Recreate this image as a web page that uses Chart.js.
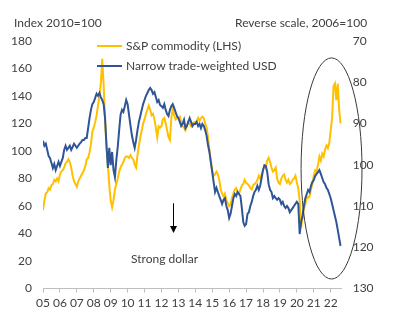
<!DOCTYPE html>
<html>
<head>
<meta charset="utf-8">
<script src="https://cdn.jsdelivr.net/npm/chart.js@4.4.1/dist/chart.umd.min.js"></script>
<style>
  body{margin:0;background:#fff;}
  #wrap{position:relative;width:395px;height:323px;font-family:Lato,"Liberation Sans",sans-serif;color:#404040;font-size:12px;}
  #chart{position:absolute;left:0;top:0;}
  .note{position:absolute;white-space:nowrap;line-height:14px;}
  .legend-item{position:absolute;left:97px;display:flex;align-items:center;white-space:nowrap;line-height:14px;}
  .legend-item .swatch{display:inline-block;width:25px;height:2px;margin-right:4px;}
</style>
</head>
<body>
<div id="wrap">
  <canvas id="chart" width="395" height="323"></canvas>
  <div class="note" style="left:14px;top:16px">Index 2010=100</div>
  <div class="note" style="left:235px;top:16px">Reverse scale, 2006=100</div>
  <div class="note" style="left:131px;top:252px">Strong dollar</div>
  <div id="legend"></div>
</div>
<script>
// monthly values, Jan 2005 onwards
const startYear = 2005;
const yearTicks = [2005,2006,2007,2008,2009,2010,2011,2012,2013,2014,2015,2016,2017,2018,2019,2020,2021,2022];
const yearLabels = ['05','06','07','08','09','10','11','12','13','14','15','16','17','18','19','20','21','22'];

// S&P commodity, index 2010=100 (LHS)
const commodity = [
  57, 64, 69, 70, 73, 72, 75, 76, 79, 78, 80, 78,
  83, 85, 86, 88, 91, 92, 94, 92, 88, 82, 78, 76,
  74, 78, 80, 82, 84, 86, 89, 94, 95, 99, 105, 114,
  117, 121, 126, 133, 140, 149, 167, 148, 123, 104, 90, 75,
  64, 59, 64, 72, 76, 80, 85, 88, 90, 92, 95, 96,
  96, 95, 97, 95, 94, 90, 88, 97, 104, 110, 115, 120,
  123, 127, 130, 133, 130, 126, 127, 123, 117, 110, 118, 117,
  118, 123, 124, 120, 115, 110, 108, 124, 131, 126, 123, 124,
  124, 125, 121, 118, 117, 115, 118, 121, 120, 118, 120, 121,
  121, 122, 124, 122, 124, 125, 124, 120, 117, 110, 101, 92,
  86, 82, 83, 85, 83, 79, 72, 69, 67, 69, 64, 62,
  60, 61, 66, 69, 72, 73, 70, 69, 72, 75, 76, 79,
  77, 76, 75, 73, 72, 75, 76, 77, 79, 82, 80, 83,
  86, 89, 88, 93, 95, 92, 88, 85, 86, 88, 80, 77,
  76, 80, 82, 83, 79, 77, 79, 76, 77, 79, 80, 82,
  77, 73, 64, 44, 51, 58, 61, 67, 66, 67, 72, 76,
  82, 86, 85, 90, 96, 93, 98, 96, 101, 104, 102, 106,
  115, 124, 147, 149, 137, 149, 130, 120
];

// narrow trade-weighted USD, 2006=100, reverse scale (RHS)
const usd = [
  94.2, 95.4, 94.9, 96.4, 97.9, 98.4, 99.6, 100.8, 99.8, 101.3, 100.3, 99.3,
  100.3, 99.3, 98.4, 96.4, 95.4, 96.4, 95.9, 95.4, 96.4, 95.7, 94.9, 95.4,
  95.9, 95.4, 94.9, 94.5, 94.0, 94.0, 93.5, 93.5, 91.1, 88.7, 86.7, 85.3,
  84.8, 83.8, 82.8, 83.3, 82.6, 83.6, 84.3, 85.3, 88.7, 95.2, 100.8, 95.9,
  100.1, 96.9, 101.3, 103.0, 98.8, 95.7, 91.6, 87.9, 86.7, 87.2, 85.8, 84.3,
  85.3, 87.9, 90.4, 92.8, 94.5, 95.9, 94.0, 91.6, 89.6, 88.2, 86.7, 85.3,
  84.3, 83.3, 82.6, 81.9, 81.4, 81.9, 82.8, 82.4, 83.6, 84.8, 84.3, 85.5,
  85.8, 86.2, 85.3, 86.7, 87.7, 88.2, 86.7, 85.8, 85.3, 86.2, 87.2, 88.2,
  88.7, 89.6, 90.6, 90.1, 89.1, 91.1, 90.6, 89.6, 88.7, 89.6, 90.6, 90.1,
  90.1, 89.6, 90.6, 90.1, 91.1, 90.1, 90.6, 91.6, 93.0, 95.2, 96.9, 99.3,
  101.8, 104.2, 106.6, 105.6, 106.6, 107.6, 108.5, 109.5, 108.5, 108.1, 110.0, 111.0,
  112.9, 111.9, 110.0, 108.1, 107.1, 107.6, 106.6, 107.1, 107.6, 110.5, 113.9, 114.8,
  114.4, 111.9, 111.5, 110.0, 109.0, 107.6, 106.6, 106.1, 105.1, 106.1, 105.1, 103.2,
  101.3, 100.1, 100.3, 101.8, 104.7, 106.1, 106.6, 108.1, 107.6, 108.1, 108.5, 108.1,
  108.5, 109.5, 109.0, 110.0, 110.5, 110.0, 110.5, 111.5, 111.0, 110.5, 110.0, 109.5,
  109.0, 109.5, 116.8, 113.9, 112.4, 110.0, 108.1, 107.1, 106.1, 106.6, 105.1, 104.2,
  103.7, 102.7, 102.2, 101.8, 101.3, 102.2, 103.2, 104.2, 104.7, 105.6, 106.1, 107.1,
  108.1, 109.5, 111.0, 112.4, 113.9, 115.8, 117.8, 119.7
];

// annotations, in data units
const ring = {x: 2022.05, y: 87.3, rx: 1.8, ry: 80.4};
const arrow = {x: 2012.69, from: 62, to: 40.4};

const toPoints = arr => arr.map((v, i) => ({x: startYear + i / 12, y: v}));

const notes = {
  id: 'notes',
  afterDatasetsDraw(chart){
    const {ctx, scales: {x, y}} = chart;
    ctx.save();
    // ellipse round the recent divergence
    const cx = x.getPixelForValue(ring.x), cy = y.getPixelForValue(ring.y);
    const rx = x.getPixelForValue(ring.x + ring.rx) - cx;
    const ry = cy - y.getPixelForValue(ring.y + ring.ry);
    ctx.strokeStyle = '#3a3a3a'; ctx.lineWidth = 1;
    ctx.beginPath(); ctx.ellipse(cx, cy, rx, ry, 0, 0, Math.PI * 2); ctx.stroke();
    // strong dollar arrow
    const ax = Math.round(x.getPixelForValue(arrow.x)) + 0.5;
    const y1 = y.getPixelForValue(arrow.from), y2 = y.getPixelForValue(arrow.to);
    ctx.strokeStyle = '#000'; ctx.fillStyle = '#000';
    ctx.beginPath(); ctx.moveTo(ax, y1); ctx.lineTo(ax, y2 - 6); ctx.stroke();
    ctx.beginPath(); ctx.moveTo(ax - 3.5, y2 - 7); ctx.lineTo(ax + 3.5, y2 - 7); ctx.lineTo(ax, y2); ctx.closePath(); ctx.fill();
    ctx.restore();
  }
};

const tickFont = {family: 'Lato, "Liberation Sans", sans-serif', size: 12};

const chart = new Chart(document.getElementById('chart'), {
  type: 'line',
  data: {
    datasets: [
      {label: 'S&P commodity (LHS)', data: toPoints(commodity), yAxisID: 'y', borderColor: '#FFC000', borderWidth: 2, pointRadius: 0, order: 1},
      {label: 'Narrow trade-weighted USD', data: toPoints(usd), yAxisID: 'y1', borderColor: '#2F5597', borderWidth: 2, pointRadius: 0, order: 0}
    ]
  },
  options: {
    responsive: false,
    animation: false,
    devicePixelRatio: 1,
    layout: {padding: {top: 41, left: 0, right: 0, bottom: 0}},
    plugins: {legend: {display: false}, tooltip: {enabled: false}},
    scales: {
      x: {
        type: 'linear', min: 2005, max: 2022.65,
        afterBuildTicks: s => { s.ticks = yearTicks.map(v => ({value: v})); },
        afterFit: s => { s.height = 34.5; },
        grid: {display: true, drawOnChartArea: false, drawTicks: true, tickLength: 4, color: '#BFBFBF'},
        border: {display: true, color: '#BFBFBF'},
        ticks: {color: '#404040', font: tickFont, padding: 3, maxRotation: 0, autoSkip: false,
          callback: v => yearLabels[yearTicks.indexOf(v)]}
      },
      y: {
        position: 'left', min: 0, max: 180,
        afterFit: s => { s.width = 43; },
        grid: {display: false, drawTicks: false},
        border: {display: false},
        ticks: {stepSize: 20, color: '#404040', font: tickFont, padding: 11}
      },
      y1: {
        position: 'right', min: 70, max: 130, reverse: true,
        afterFit: s => { s.width = 53.3; },
        grid: {display: false, drawTicks: false},
        border: {display: false},
        ticks: {stepSize: 10, color: '#404040', font: tickFont, padding: 11}
      }
    }
  },
  plugins: [notes]
});

// legend inside the plot
const legend = document.getElementById('legend');
chart.data.datasets.forEach((ds, i) => {
  const item = document.createElement('div');
  item.className = 'legend-item';
  item.style.top = (39 + i * 20) + 'px';
  item.innerHTML = '<span class="swatch" style="background:' + ds.borderColor + '"></span>' + ds.label.replace('&', '&amp;');
  legend.appendChild(item);
});
</script>
</body>
</html>
